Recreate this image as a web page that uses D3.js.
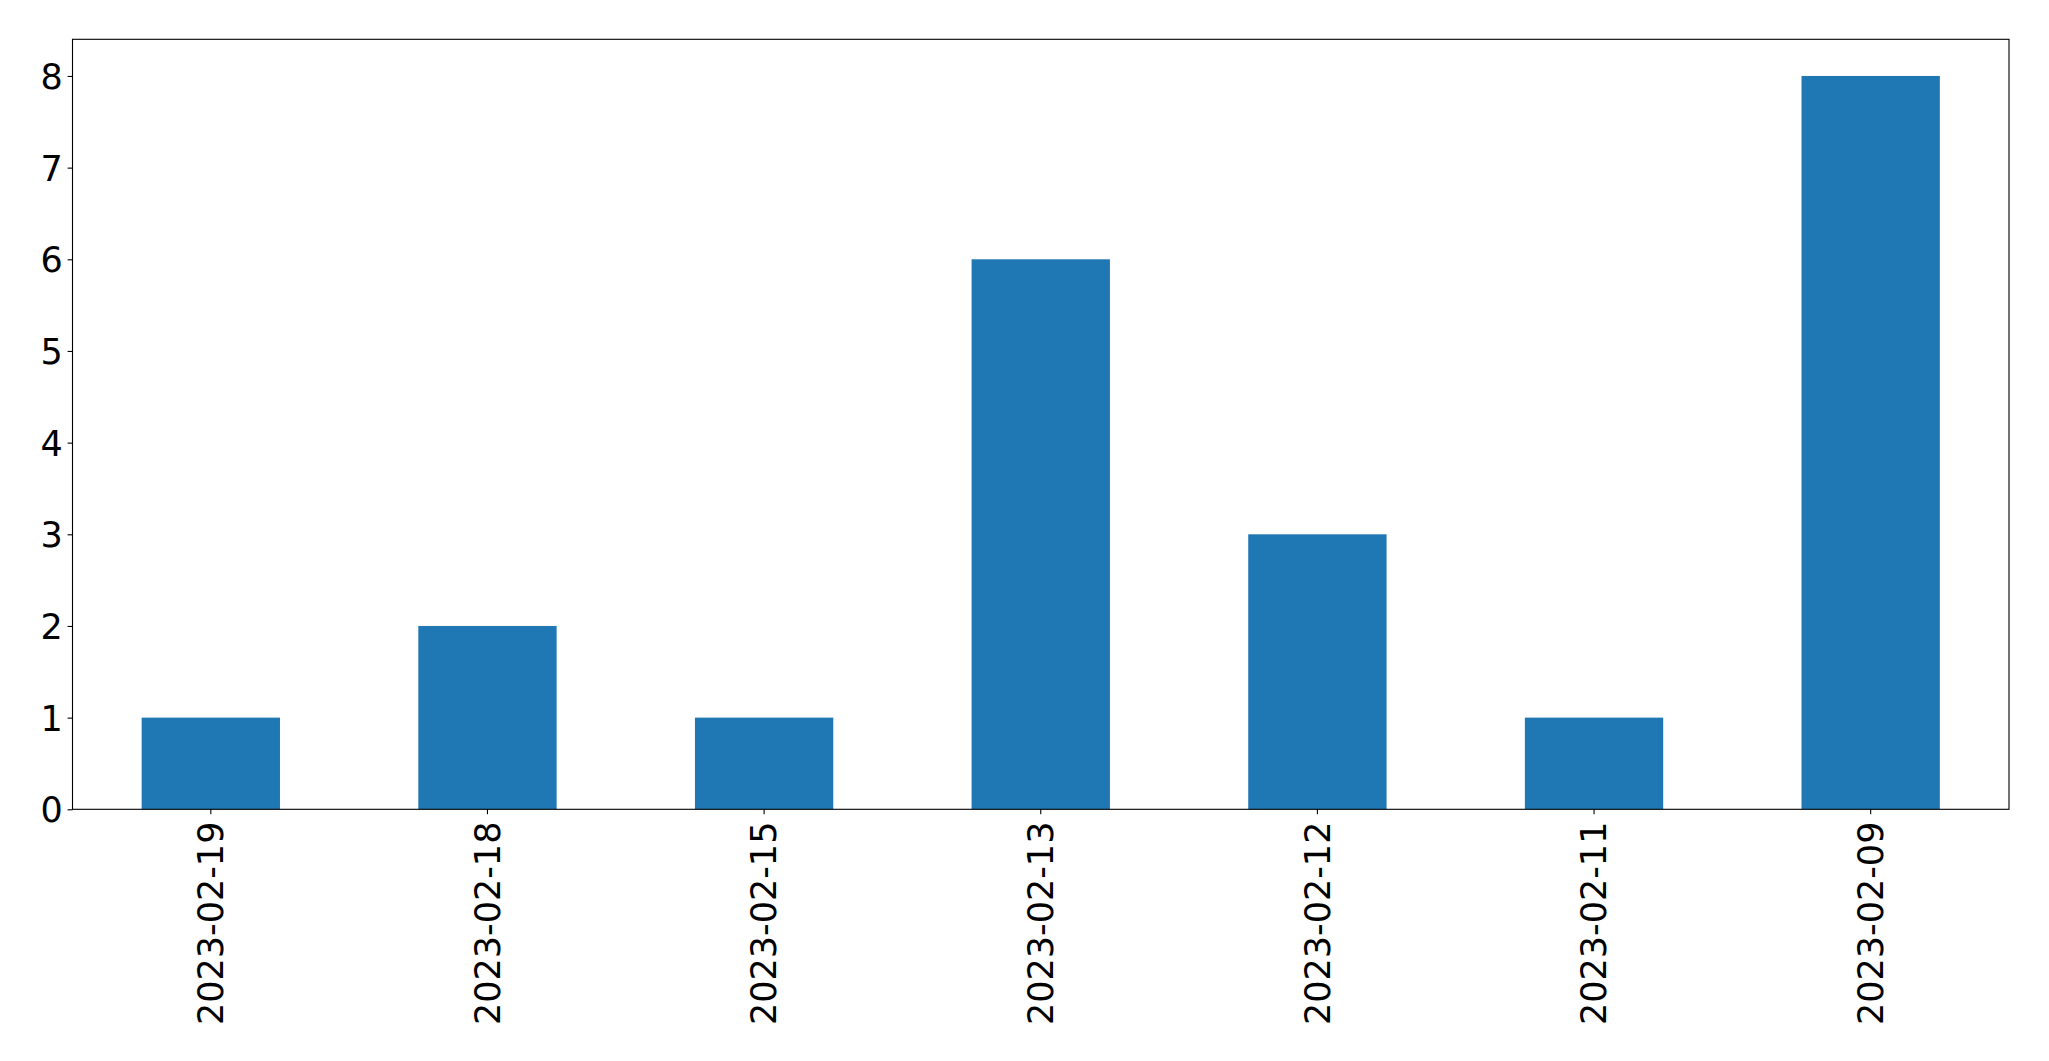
<!DOCTYPE html>
<html><head><meta charset="utf-8">
<script src="https://cdn.jsdelivr.net/npm/d3@7"></script>
<style>body{margin:0;background:#fff}svg{display:block}</style>
</head><body>
<script>
const categories = ["2023-02-19","2023-02-18","2023-02-15","2023-02-13","2023-02-12","2023-02-11","2023-02-09"];
const values = [1,2,1,6,3,1,8];
const yTicks = [0,1,2,3,4,5,6,7,8];

const W = 2049, H = 1061;
const m = {left:72.5, right:2049-2009, top:39.3, bottom:1061-809.3};
const svg = d3.select("body").append("svg").attr("width",W).attr("height",H);
const x = d3.scaleBand().domain(categories).range([m.left, W-m.right]).paddingInner(0.5).paddingOuter(0.25);
const y = d3.scaleLinear().domain([0, 8.4]).range([H-m.bottom, m.top]);

svg.append("g").selectAll("rect").data(values).join("rect")
  .attr("x",(d,i)=>x(categories[i])).attr("width",x.bandwidth())
  .attr("y",d=>y(d)).attr("height",d=>y(0)-y(d)).attr("fill","#1f77b4");

const font = "'DejaVu Sans', sans-serif";
const fs = "35px";
const ya = svg.append("g").attr("transform",`translate(${m.left},0)`)
  .call(d3.axisLeft(y).tickValues(yTicks).tickFormat(d3.format("d")).tickSize(4.9).tickPadding(4.9));
ya.select(".domain").remove();
ya.selectAll("text").style("font-family",font).style("font-size",fs).attr("fill","#000").attr("dy","0.36em");
ya.selectAll("line").attr("stroke","#000").attr("stroke-width",1.1);

const xa = svg.append("g").attr("transform",`translate(0,${H-m.bottom})`)
  .call(d3.axisBottom(x).tickSize(4.9).tickPadding(4.9));
xa.select(".domain").remove();
xa.selectAll("line").attr("stroke","#000").attr("stroke-width",1.1);
xa.selectAll("text").style("font-family",font).style("font-size",fs).attr("fill","#000")
  .attr("text-anchor","end").attr("transform","rotate(-90)")
  .attr("x",-(4.9+4.9+2.5)).attr("y",0).attr("dy","0.35em");

svg.append("rect").attr("x",m.left).attr("y",m.top).attr("width",W-m.left-m.right).attr("height",H-m.top-m.bottom)
  .attr("fill","none").attr("stroke","#000").attr("stroke-width",1.1);
</script>
</body></html>
